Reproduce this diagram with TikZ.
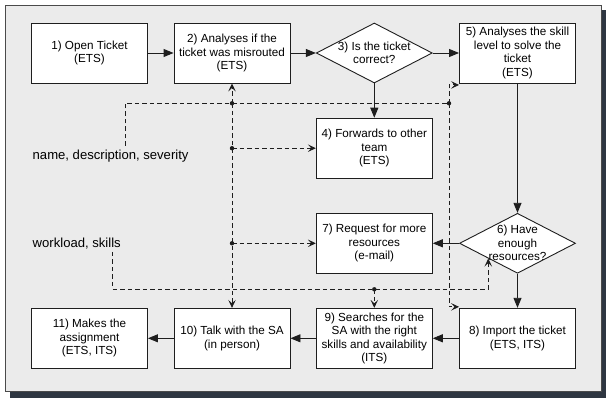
\documentclass[tikz,border=0pt]{standalone}
\usepackage{fontspec}
\setmainfont{Liberation Sans}
\usetikzlibrary{arrows.meta,shapes.geometric,calc}
\definecolor{bgC}{HTML}{EBEBEB}
\definecolor{frameC}{HTML}{4A4A4A}
\definecolor{shadowC}{HTML}{2E3641}
\definecolor{lineC}{HTML}{1E1E1E}
\newcommand\bxfont{\fontsize{11.7}{13.5}\selectfont}
\newcommand\lbfont{\fontsize{13.1}{15}\selectfont}
\begin{document}
\begin{tikzpicture}[x=1pt,y=-1pt,
  box/.style={draw=lineC, fill=white, line width=0.9pt, minimum width=116pt, minimum height=60pt, inner sep=0pt, align=center, font=\bxfont},
  dia/.style={diamond, draw=lineC, fill=white, line width=0.9pt, minimum width=116pt, minimum height=60pt, inner sep=0pt},
  diatext/.style={align=center, font=\bxfont, inner sep=0pt},
  lbl/.style={font=\lbfont, inner sep=0pt, anchor=west},
  flow/.style={draw=lineC, line width=0.9pt, -{Triangle[length=10pt,width=8pt]}},
  dsh/.style={draw=lineC, line width=0.9pt, dash pattern=on 4.5pt off 3pt},
  dasharr/.style={dsh, -{Stealth[length=8pt,width=7.5pt,inset=3.5pt]}},
  dotc/.style={fill=lineC}
]
\useasboundingbox (0,0) rectangle (606,398);
% shadow and frame
\fill[shadowC] (10,10) rectangle (606,398);
\draw[fill=bgC, draw=frameC, line width=1pt] (5.5,5.5) rectangle (601.5,391.5);

% nodes
\node[box] (n1) at (89.5,53) {1) Open Ticket\\(ETS)};
\node[box] (n2) at (232,53) {2) Analyses if the\\ticket was misrouted\\(ETS)};
\node[dia] (d3) at (374.3,53) {};
\node[diatext] (d3t) at (d3) {3) Is the ticket\\correct?};
\node[box] (n5) at (517.5,53) {5) Analyses the skill\\level to solve the\\ticket\\(ETS)};
\node[box] (n4) at (374.3,148.2) {4) Forwards to other\\team\\(ETS)};
\node[box] (n7) at (374.3,243.3) {7) Request for more\\resources\\(e-mail)};
\node[dia] (d6) at (517.5,243.3) {};
\node[diatext] (d6t) at (d6) {6) Have\\enough\\resources?};
\node[box] (n8) at (517.5,338.3) {8) Import the ticket\\(ETS, ITS)};
\node[box] (n9) at (374.3,338.3) {9) Searches for the\\SA with the right\\skills and availability\\(ITS)};
\node[box] (n10) at (232,338.3) {10) Talk with the SA\\(in person)};
\node[box] (n11) at (89.5,338.3) {11) Makes the\\assignment\\(ETS, ITS)};

% labels
\node[lbl] (l1) at (32.5,156.5) {name, description, severity};
\node[lbl] (l2) at (32.5,243.3) {workload, skills};

% flow arrows
\draw[flow] (n1.east) -- (n2.west);
\draw[flow] (n2.east) -- (d3.west);
\draw[flow] (d3.east) -- (n5.west);
\draw[flow] (d3.south) -- (n4.north);
\draw[flow] (n5.south) -- (d6.north);
\draw[flow] (d6.west) -- (n7.east);
\draw[flow] (d6.south) -- (n8.north);
\draw[flow] (n8.west) -- (n9.east);
\draw[flow] (n9.west) -- (n10.east);
\draw[flow] (n10.west) -- (n11.east);

% dashed information lines
\coordinate (c1) at (125,146);
\coordinate (p1) at (232,103.3);
\coordinate (p2) at (449,103.3);
\coordinate (p3) at (p1 |- n4.west);
\coordinate (p4) at (p1 |- n7.west);
\coordinate (c2) at (112.7,252);
\coordinate (c3) at (112.7,289.3);
\coordinate (p5) at (n9.north |- c3);

\draw[dsh] (c1) |- (p2);
\draw[dasharr] (p1) -- (n2.south);
\draw[dasharr] (p1) -- (n10.north);
\draw[dasharr] (p2) |- ($(n5.south west)+(0,1.5)$);
\draw[dasharr] (p2) |- ($(n8.north west)+(0,-1)$);
\draw[dasharr] (p3) -- (n4.west);
\draw[dasharr] (p4) -- (n7.west);
\draw[dasharr] (c2) -- (c3) -| (d6.south west);
\draw[dasharr] (p5) -- (n9.north);

\foreach \p in {p1,p2,p3,p4,p5} \fill[dotc] (\p) circle (2.2pt);
\end{tikzpicture}
\end{document}
